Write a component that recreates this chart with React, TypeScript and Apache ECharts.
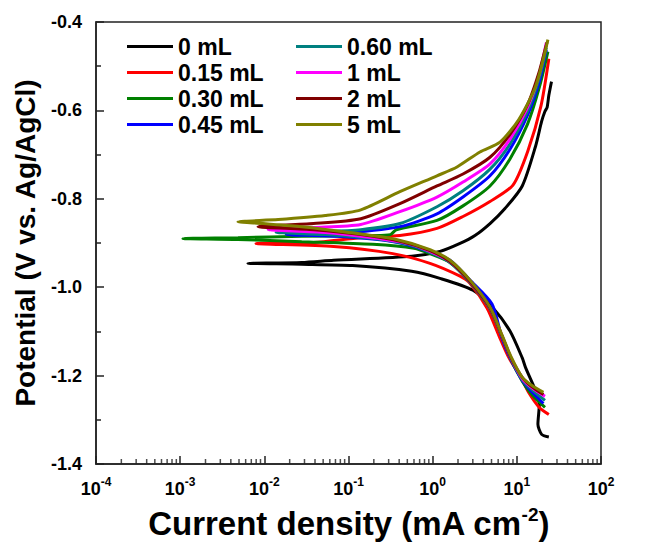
import React, { useEffect, useRef } from "react";
import * as echarts from "echarts";

const seriesNames = ["0 mL", "0.15 mL", "0.30 mL", "0.45 mL", "0.60 mL", "1 mL", "2 mL", "5 mL"];
const seriesColors = ["#000000", "#ff0000", "#008000", "#0000ff", "#008080", "#ff00ff", "#800000", "#808000"];

// [current density (mA cm-2), potential (V)] — cathodic end -> Ecorr tip -> anodic end
const data0mL: number[][] = [
  [24.0, -1.339], [19.7, -1.333], [17.8, -1.31], [18.5, -1.265], [16.7, -1.234], [12.7, -1.182],
  [11.6, -1.16], [8.29, -1.099], [5.21, -1.047], [3.01, -1.007], [1.22, -0.98], [0.563, -0.964],
  [0.112, -0.951], [0.0278, -0.948], [0.00639, -0.946],
  [0.0278, -0.944], [0.0665, -0.939], [0.563, -0.93], [1.222, -0.919], [2.113, -0.901], [3.18, -0.883],
  [4.8, -0.856], [7.23, -0.822], [11.6, -0.771], [16.7, -0.681], [19.7, -0.625], [21.6, -0.602],
  [22.9, -0.593], [24.0, -0.566], [25.8, -0.535],
];
const data015mL: number[][] = [
  [24.0, -1.288], [18.5, -1.272], [14.0, -1.24], [11.2, -1.204], [8.07, -1.16], [6.14, -1.11],
  [4.42, -1.047], [2.775, -0.991], [2.113, -0.975], [0.929, -0.946], [0.336, -0.924], [0.0665, -0.908],
  [0.00796, -0.901],
  [0.0384, -0.899], [0.14, -0.888], [0.408, -0.883], [1.125, -0.867], [2.293, -0.84], [4.8, -0.806],
  [9.0, -0.769], [13.4, -0.694], [19.3, -0.591], [24.0, -0.483],
];
const data030mL: number[][] = [
  [21.6, -1.272], [15.0, -1.243], [11.6, -1.213], [8.53, -1.164], [6.66, -1.112], [4.8, -1.049],
  [2.775, -0.989], [1.607, -0.944], [0.929, -0.924], [0.6, -0.912], [0.194, -0.903], [0.0278, -0.897],
  [0.00486, -0.892], [0.00108, -0.89],
  [0.00486, -0.888], [0.0278, -0.885], [0.194, -0.883], [0.314, -0.881], [0.37, -0.87], [1.125, -0.849],
  [2.293, -0.816], [4.8, -0.771], [8.29, -0.71], [13.4, -0.631], [18.5, -0.548], [23.4, -0.467],
];
const data045mL: number[][] = [
  [20.7, -1.263], [15.0, -1.236], [11.6, -1.211], [8.53, -1.164], [6.66, -1.115], [5.07, -1.038],
  [2.775, -0.984], [1.607, -0.939], [0.929, -0.921], [0.6, -0.908], [0.267, -0.894], [0.0734, -0.885],
  [0.0182, -0.881],
  [0.0734, -0.879], [0.408, -0.863], [1.125, -0.834], [2.293, -0.796], [4.8, -0.748], [8.29, -0.688],
  [13.4, -0.611], [18.5, -0.535], [22.4, -0.463],
];
const data060mL: number[][] = [
  [21.6, -1.256], [15.0, -1.231], [11.6, -1.209], [8.53, -1.162], [6.66, -1.112], [4.8, -1.049],
  [2.775, -0.989], [1.607, -0.944], [0.929, -0.921], [0.512, -0.903], [0.194, -0.89], [0.053, -0.881],
  [0.0138, -0.876],
  [0.053, -0.874], [0.14, -0.87], [0.408, -0.856], [1.125, -0.818], [2.293, -0.782], [4.8, -0.733],
  [8.29, -0.676], [13.4, -0.602], [18.5, -0.526], [22.4, -0.458],
];
const data1mL: number[][] = [
  [21.6, -1.247], [15.0, -1.227], [11.6, -1.207], [8.53, -1.16], [6.66, -1.11], [4.8, -1.047],
  [2.775, -0.987], [1.607, -0.942], [0.929, -0.919], [0.512, -0.901], [0.194, -0.888], [0.053, -0.876],
  [0.0111, -0.87],
  [0.0384, -0.865], [0.14, -0.858], [0.408, -0.829], [1.125, -0.796], [2.293, -0.762], [4.8, -0.721],
  [8.29, -0.665], [13.4, -0.593], [18.5, -0.517], [22.4, -0.447],
];
const data2mL: number[][] = [
  [20.7, -1.243], [15.0, -1.225], [11.6, -1.204], [8.53, -1.16], [6.66, -1.11], [4.8, -1.047],
  [2.775, -0.987], [1.607, -0.942], [0.929, -0.917], [0.435, -0.897], [0.14, -0.881], [0.0384, -0.87],
  [0.0084, -0.863],
  [0.0384, -0.856], [0.14, -0.845], [0.408, -0.811], [1.125, -0.771], [2.293, -0.744], [4.8, -0.706],
  [8.29, -0.654], [13.4, -0.587], [18.5, -0.512], [22.9, -0.445],
];
const data5mL: number[][] = [
  [20.7, -1.238], [15.0, -1.222], [11.6, -1.204], [8.53, -1.157], [6.66, -1.108], [4.8, -1.045],
  [2.775, -0.984], [1.607, -0.939], [0.929, -0.915], [0.37, -0.892], [0.101, -0.876], [0.0278, -0.863],
  [0.0096, -0.856], [0.00486, -0.852],
  [0.0146, -0.847], [0.053, -0.838], [0.14, -0.825], [0.408, -0.784], [1.125, -0.748], [1.945, -0.728],
  [3.648, -0.694], [6.31, -0.672], [10.6, -0.62], [16.7, -0.546], [23.4, -0.44],
];
const allData = [data0mL, data015mL, data030mL, data045mL, data060mL, data1mL, data2mL, data5mL];

const xMin = 1e-4;
const xMax = 100;
const yMin = -1.4;
const yMax = -0.4;
const yInterval = 0.2;

const FONT = "'Liberation Sans', Arial, Helvetica, sans-serif";

export default function App() {
  const ref = useRef<HTMLDivElement>(null);

  useEffect(() => {
    if (!ref.current) return;
    const chart = echarts.init(ref.current, null, { renderer: "svg" });

    // minor log ticks (2..9 x 10^n) along the bottom axis
    const minorTicks: number[][] = [];
    for (let n = -4; n < 2; n++) {
      for (let k = 2; k <= 9; k++) minorTicks.push([k * Math.pow(10, n), yMin]);
    }

    const lineSeries = seriesNames.map((name, i) => ({
      name,
      type: "line",
      data: allData[i],
      showSymbol: false,
      symbol: "none",
      smooth: 0.25,
      lineStyle: { width: 3, color: seriesColors[i] },
      itemStyle: { color: seriesColors[i] },
      z: 3 + i,
    }));

    const legendCommon = {
      orient: "vertical",
      icon: "rect",
      itemWidth: 46,
      itemHeight: 3,
      itemGap: 3,
      top: 30,
      textStyle: { fontFamily: FONT, fontWeight: "bold", fontSize: 23, color: "#000" },
    };

    chart.setOption({
      animation: false,
      backgroundColor: "#ffffff",
      grid: {
        left: 96,
        top: 22,
        width: 505,
        height: 445,
        show: true,
        borderColor: "#222",
        borderWidth: 1.5,
        backgroundColor: "transparent",
      },
      legend: [
        { ...legendCommon, left: 122, data: seriesNames.slice(0, 4) },
        { ...legendCommon, left: 291, data: seriesNames.slice(4) },
      ],
      xAxis: {
        type: "log",
        logBase: 10,
        min: xMin,
        max: xMax,
        axisLine: { lineStyle: { color: "#222", width: 1.5 } },
        axisTick: { inside: true, length: 8, lineStyle: { color: "#222", width: 1.5 } },
        splitLine: { show: false },
        axisLabel: {
          margin: 12,
          color: "#000",
          fontFamily: FONT,
          fontWeight: "bold",
          fontSize: 18,
          formatter: (v: number) => "{b|10}{s|" + Math.round(Math.log10(v)) + "}",
          rich: {
            b: { fontSize: 18, fontWeight: "bold", fontFamily: FONT, verticalAlign: "bottom", lineHeight: 22, color: "#000" },
            s: { fontSize: 12, fontWeight: "bold", fontFamily: FONT, verticalAlign: "top", lineHeight: 12, color: "#000" },
          },
        },
        name: "Current density (mA cm{s|-2})",
        nameLocation: "middle",
        nameGap: 41,
        nameTextStyle: {
          fontFamily: FONT,
          fontWeight: "bold",
          fontSize: 33,
          color: "#000",
          lineHeight: 36,
          rich: {
            s: { fontSize: 19, fontWeight: "bold", fontFamily: FONT, verticalAlign: "top", lineHeight: 19, color: "#000" },
          },
        },
      },
      yAxis: {
        type: "value",
        min: yMin,
        max: yMax,
        interval: yInterval,
        axisLine: { onZero: false, lineStyle: { color: "#222", width: 1.5 } },
        axisTick: { inside: true, length: 8, lineStyle: { color: "#222", width: 1.5 } },
        minorTick: { show: true, splitNumber: 2, length: 5, lineStyle: { color: "#222", width: 1.5 } },
        splitLine: { show: false },
        axisLabel: {
          margin: 14,
          color: "#000",
          fontFamily: FONT,
          fontWeight: "bold",
          fontSize: 18,
          formatter: (v: number) => v.toFixed(1),
        },
        name: "Potential (V vs. Ag/AgCl)",
        nameLocation: "middle",
        nameGap: 57,
        nameRotate: 90,
        nameTextStyle: { fontFamily: FONT, fontWeight: "bold", fontSize: 28, color: "#000" },
      },
      series: [
        ...lineSeries,
        {
          type: "scatter",
          name: "minorTicks",
          data: minorTicks,
          symbol: "rect",
          symbolSize: [1.5, 5],
          symbolOffset: [0, -2.5],
          itemStyle: { color: "#222" },
          silent: true,
          clip: false,
          z: 20,
        },
      ],
    });

    return () => chart.dispose();
  }, []);

  return (
    <div
      ref={ref}
      style={{ position: "absolute", left: 0, top: 0, width: 671, height: 546, background: "#fff" }}
    />
  );
}
